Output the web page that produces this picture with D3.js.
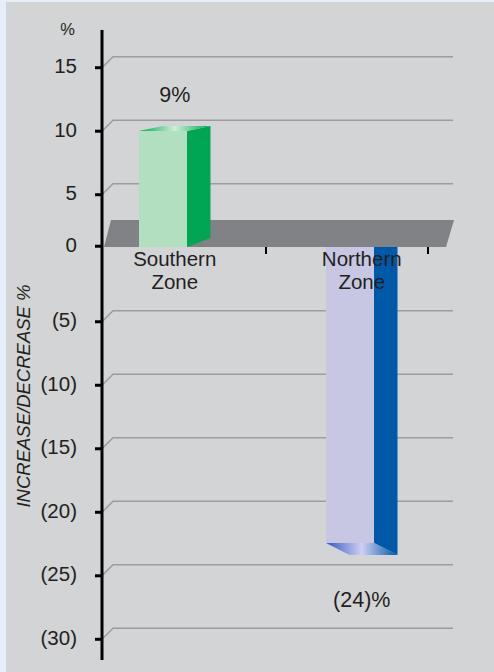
<!DOCTYPE html>
<html>
<head>
<meta charset="utf-8">
<script src="https://cdn.jsdelivr.net/npm/d3@7"></script>
<style>
  body { margin: 0; background: #e6eef8; }
  svg { display: block; }
  text { font-family: "Liberation Sans", Arial, sans-serif; fill: #231f20; }
</style>
</head>
<body>
<div id="chart"></div>
<script>

// data
const categories = ['Southern Zone', 'Northern Zone']
const values = [9, -24]
const valueLabels = ['9%', '(24)%']
const tickValues = [15, 10, 5, 0, -5, -10, -15, -20, -25, -30]
const tickLabels = ['15', '10', '5', '0', '(5)', '(10)', '(15)', '(20)', '(25)', '(30)']

// chart setting
const chart = {
  'width' : 494,
  'height' : 672,
  'axisX' : 102,
  'gridEnd' : 453,
  'depth' : 11,      // gridline depth offset
  'floorDepth' : 12,
  'frontW' : 48,
  'sideW' : 23.5
}

const colors = {
  'Southern Zone' : {front: '#b2dfc0', side: '#00a651', edge: '#00a651', light: '#cdeed8'},
  'Northern Zone' : {front: '#c7c6e3', side: '#0058a9', edge: '#3358c0', light: '#cfcff2'}
}

const data = categories.map((c, i) => ({cat: c, value: values[i], label: valueLabels[i]}))

const svg = d3.select('#chart')
  .append('svg')
    .attr('width', chart.width)
    .attr('height', chart.height)

// panel
svg.append('rect')
  .attr('x', 6).attr('y', 2)
  .attr('width', chart.width - 6).attr('height', chart.height - 2)
  .attr('fill', '#d3d4d6')

const yScale = d3.scaleLinear()
    .domain([15, -30])
    .range([67.7, 639.3])

// zero sits on the front edge of the floor
const tickY = v => v === 0 ? yScale(0) - chart.floorDepth : yScale(v)

// bar front / back edges (3d projection)
const barY = d3.scaleLinear()
    .domain([-24, 0, 9])
    .range([543, 247, 131])
const barYBack = d3.scaleLinear()
    .domain([-24, 0, 9])
    .range([555, 238, 126])

const barX = d3.scalePoint()
    .domain(categories)
    .range([139, 326])

const catScale = d3.scaleLinear()
    .domain([0, 2])
    .range([104, 428])

// gradients
const defs = svg.append('defs')
data.forEach((d, i) => {
  const g = defs.append('linearGradient')
      .attr('id', 'cap' + i)
      .attr('x1', 0).attr('x2', 1).attr('y1', 0).attr('y2', 0)
  g.append('stop').attr('offset', '0%').attr('stop-color', colors[d.cat].edge)
  g.append('stop').attr('offset', '50%').attr('stop-color', colors[d.cat].light)
  g.append('stop').attr('offset', '100%').attr('stop-color', colors[d.cat].side)
})

// gridlines
svg.append('g')
  .selectAll('path')
  .data(tickValues.filter(v => v !== 0))
  .join('path')
    .attr('d', v => {
      const y = tickY(v)
      return `M${chart.axisX},${y} L${chart.axisX + chart.depth},${y - chart.depth} L${chart.gridEnd},${y - chart.depth}`
    })
    .attr('fill', 'none')
    .attr('stroke', '#9c9c9e')
    .attr('stroke-width', 1.5)

function drawBar (d, i) {
  const x0 = barX(d.cat)
  const x1 = x0 + chart.frontW
  const x2 = x1 + chart.sideW
  const yF0 = barY(0), yF1 = barY(d.value)
  const yB0 = barYBack(0), yB1 = barYBack(d.value)
  const g = svg.append('g')

  // side
  g.append('path')
    .attr('d', `M${x1},${yF0} L${x2},${yB0} L${x2},${yB1} L${x1},${yF1} Z`)
    .attr('fill', colors[d.cat].side)
  // front
  g.append('rect')
    .attr('x', x0).attr('width', chart.frontW)
    .attr('y', Math.min(yF0, yF1)).attr('height', Math.abs(yF1 - yF0))
    .attr('fill', colors[d.cat].front)
  // cap
  g.append('path')
    .attr('d', `M${x0},${yF1} L${x1},${yF1} L${x2},${yB1} L${x0 + chart.sideW},${yB1} Z`)
    .attr('fill', `url(#cap${i})`)
}

// bars below zero go behind the floor
data.forEach((d, i) => { if (d.value < 0) drawBar(d, i) })

// floor
const fTop = barYBack(0) - 18, fBot = barY(0)
svg.append('path')
  .attr('d', `M104,${fBot} L111,${fTop} L454,${fTop} L446,${fBot} Z`)
  .attr('fill', '#808285')

data.forEach((d, i) => { if (d.value >= 0) drawBar(d, i) })

// category ticks
svg.append('g')
  .selectAll('line')
  .data([1, 2])
  .join('line')
    .attr('x1', d => catScale(d)).attr('x2', d => catScale(d))
    .attr('y1', barY(0)).attr('y2', barY(0) + 7)
    .attr('stroke', '#000')
    .attr('stroke-width', 2)

// y axis
svg.append('line')
  .attr('x1', chart.axisX).attr('x2', chart.axisX)
  .attr('y1', 30).attr('y2', 660)
  .attr('stroke', '#000')
  .attr('stroke-width', 3)

const ticks = svg.append('g')
  .selectAll('g')
  .data(tickValues)
  .join('g')

ticks.append('line')
  .attr('x1', 95).attr('x2', chart.axisX)
  .attr('y1', v => tickY(v)).attr('y2', v => tickY(v))
  .attr('stroke', '#000')
  .attr('stroke-width', 3)

ticks.append('text')
  .attr('x', 77)
  .attr('y', v => tickY(v) + 5.5)
  .attr('text-anchor', 'end')
  .attr('font-size', 20.5)
  .text((v, i) => tickLabels[i])

svg.append('text')
  .attr('x', 67.5).attr('y', 35)
  .attr('text-anchor', 'middle')
  .attr('font-size', 16.5)
  .text('%')

svg.append('text')
  .attr('transform', 'translate(30,396) rotate(-90)')
  .attr('text-anchor', 'middle')
  .attr('font-size', 18.5)
  .attr('font-style', 'italic')
  .text('INCREASE/DECREASE %')

// category labels
const catLabels = svg.append('g')
  .selectAll('text')
  .data(categories)
  .join('text')
    .attr('text-anchor', 'middle')
    .attr('font-size', 20.5)
catLabels.selectAll('tspan')
  .data(c => c.split(' ').map(w => ({w: w, x: barX(c) + (chart.frontW + chart.sideW) / 2})))
  .join('tspan')
    .attr('x', d => d.x)
    .attr('y', (d, i) => 265.5 + i * 23)
    .text(d => d.w)

// value labels
svg.append('g')
  .selectAll('text')
  .data(data)
  .join('text')
    .attr('x', d => barX(d.cat) + (chart.frontW + chart.sideW) / 2)
    .attr('y', d => d.value >= 0 ? barY(d.value) - 29 : barY(d.value) + 64)
    .attr('text-anchor', 'middle')
    .attr('font-size', 21.5)
    .text(d => d.label)

</script>
</body>
</html>
